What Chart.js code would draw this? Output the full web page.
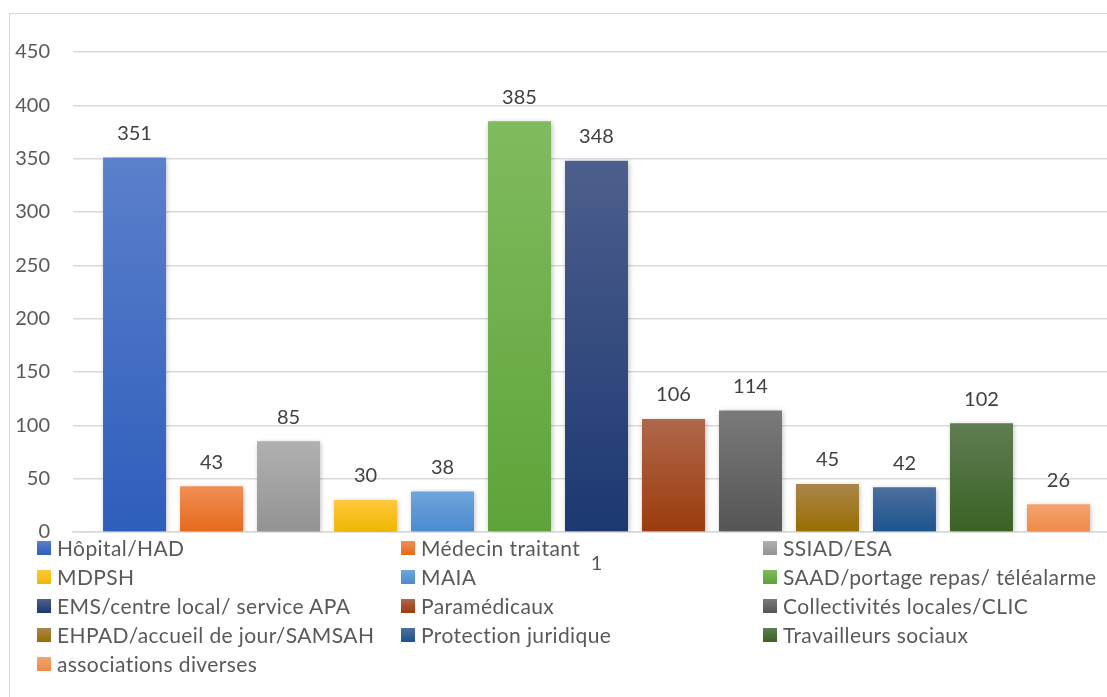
<!DOCTYPE html>
<html>
<head>
<meta charset="utf-8">
<script src="https://cdn.jsdelivr.net/npm/chart.js@4"></script>
<style>
  html, body { margin: 0; padding: 0; background: #fff; overflow: hidden; }
  #wrap { position: relative; width: 1107px; height: 697px; overflow: hidden; }
  #frame { position: absolute; left: 9px; top: 13px; width: 1120px; height: 700px; border: 1px solid #d9d9d9; box-sizing: border-box; }
  #chart { position: absolute; left: 0; top: 0; }
  .lg { position: absolute; font-family: Lato, sans-serif; font-size: 21px; letter-spacing: 0.4px; color: #595959; white-space: nowrap; line-height: 24px; }
  .lg i { position: absolute; left: -20px; top: 5px; width: 14px; height: 14px; }
</style>
</head>
<body>
<div id="wrap">
  <div id="frame"></div>
  <canvas id="chart" width="1125" height="697"></canvas>
  <div id="legend"></div>
</div>
<script>
// ── Data ───────────────────────────────────────────────
const categories = ['1'];
const seriesNames = [
    'Hôpital/HAD', 'Médecin traitant', 'SSIAD/ESA',
    'MDPSH', 'MAIA', 'SAAD/portage repas/ téléalarme',
    'EMS/centre local/ service APA', 'Paramédicaux', 'Collectivités locales/CLIC',
    'EHPAD/accueil de jour/SAMSAH', 'Protection juridique', 'Travailleurs sociaux',
    'associations diverses'
];
const seriesValues = [351, 43, 85, 30, 38, 385, 348, 106, 114, 45, 42, 102, 26];
const yTicks = [0, 50, 100, 150, 200, 250, 300, 350, 400, 450];

// top / bottom colours of each bar's gradient
const topColors = ['#5b80cc', '#f18f55', '#b0b0b0', '#ffc83d', '#6fa5db', '#80bb5e', '#4d5f8c',
                   '#b0674b', '#7a7a7a', '#a8864a', '#4d6f9e', '#5f7d53', '#f5a36e'];
const botColors = ['#2e5dbb', '#e5691c', '#939393', '#efb700', '#4a8bcf', '#5ea339', '#1c3872',
                   '#9b3c0c', '#555555', '#986d00', '#1b548f', '#3b6223', '#ee8a48'];

// ── Helpers ────────────────────────────────────────────
function barGradient(c) {
    const chart = c.chart;
    const y = chart.scales.y;
    const i = c.datasetIndex;
    if (!y || !chart.chartArea) return topColors[i];
    const top = y.getPixelForValue(seriesValues[i]);
    const bot = y.getPixelForValue(0);
    if (!isFinite(top) || !isFinite(bot)) return topColors[i];
    const g = chart.ctx.createLinearGradient(0, top, 0, bot);
    g.addColorStop(0, topColors[i]);
    g.addColorStop(1, botColors[i]);
    return g;
}

const shadowPlugin = {
    id: 'shadow',
    beforeDatasetDraw(chart) {
        const ctx = chart.ctx;
        ctx.save();
        ctx.shadowColor = 'rgba(0,0,0,0.28)';
        ctx.shadowBlur = 5;
        ctx.shadowOffsetX = 1;
        ctx.shadowOffsetY = 1;
    },
    afterDatasetDraw(chart) { chart.ctx.restore(); }
};

const labelPlugin = {
    id: 'valueLabels',
    afterDatasetsDraw(chart) {
        const ctx = chart.ctx;
        ctx.save();
        ctx.font = '20px Lato, sans-serif';
        ctx.fillStyle = '#404040';
        ctx.textAlign = 'center';
        ctx.textBaseline = 'middle';
        chart.data.datasets.forEach((ds, i) => {
            chart.getDatasetMeta(i).data.forEach((bar, j) => {
                ctx.fillText(ds.data[j], bar.x, bar.y - 24);
            });
        });
        ctx.restore();
    }
};

// ── Chart ──────────────────────────────────────────────
new Chart(document.getElementById('chart'), {
    type: 'bar',
    data: {
        labels: categories,
        datasets: seriesNames.map((name, i) => ({
            label: name,
            data: [seriesValues[i]],
            backgroundColor: barGradient,
            borderWidth: 0
        }))
    },
    options: {
        responsive: false,
        animation: false,
        devicePixelRatio: 1,
        barPercentage: 0.818,
        categoryPercentage: 0.956,
        layout: { padding: { top: 52, right: 5, left: 0, bottom: 0 } },
        plugins: { legend: { display: false }, tooltip: { enabled: false } },
        scales: {
            x: {
                grid: { display: false, drawTicks: false },
                border: { display: true, color: '#d9d9d9', width: 1.5 },
                ticks: { color: '#595959', font: { family: 'Lato', size: 20 }, padding: 20 },
                afterFit(s) { s.height = 697 - 532; }
            },
            y: {
                min: 0, max: 450,
                afterBuildTicks(s) { s.ticks = yTicks.map(v => ({ value: v })); },
                grid: { color: '#d9d9d9', lineWidth: 1.5, drawTicks: false },
                border: { display: false },
                ticks: { color: '#595959', font: { family: 'Lato', size: 20 }, padding: 23 },
                afterFit(s) { s.width = 73; }
            }
        }
    },
    plugins: [shadowPlugin, labelPlugin]
});

// ── Legend (3 columns, row-wise) ───────────────────────
const colX = [57, 421, 783];
const rowY = [548, 577, 606, 635, 664];
const legend = document.getElementById('legend');
seriesNames.forEach((name, i) => {
    const d = document.createElement('div');
    d.className = 'lg';
    d.style.left = colX[i % 3] + 'px';
    d.style.top = (rowY[Math.floor(i / 3)] - 12) + 'px';
    d.innerHTML = `<i style="background:linear-gradient(${topColors[i]},${botColors[i]})"></i>${name}`;
    legend.appendChild(d);
});
</script>
</body>
</html>
